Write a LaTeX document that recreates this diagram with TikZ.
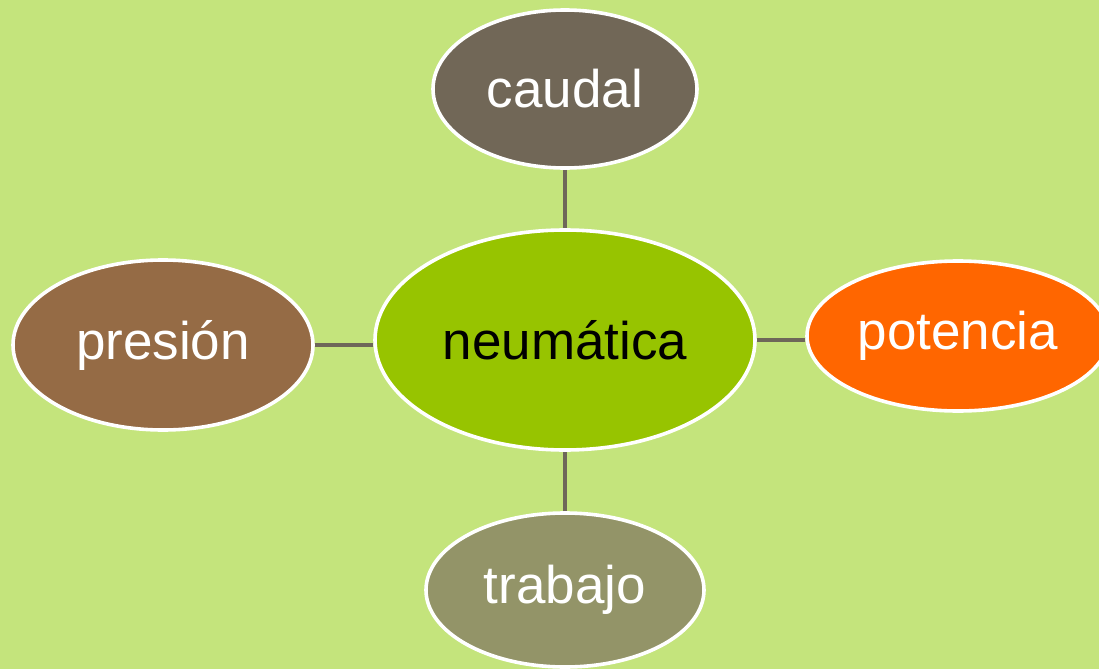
\documentclass[tikz,border=0pt]{standalone}
\usepackage{fontspec}
\setmainfont{Liberation Sans}
\usetikzlibrary{shapes.geometric}
\definecolor{bggreen}{HTML}{C4E47C}
\definecolor{centergreen}{HTML}{97C400}
\definecolor{caudalgray}{HTML}{716757}
\definecolor{presionbrown}{HTML}{956B45}
\definecolor{potenciaorange}{HTML}{FF6600}
\definecolor{trabajoolive}{HTML}{939468}
\definecolor{linkgray}{HTML}{6E6759}
\begin{document}
\begin{tikzpicture}[x=0.5pt,y=-0.5pt,
    bubble/.style={ellipse, draw=white, line width=1.8pt, inner sep=0pt,
        text=white, font=\fontsize{26.5}{30}\selectfont},
    link/.style={draw=linkgray, line width=2.2pt}]

    \fill[bggreen] (0,0) rectangle (1099,669);
    \useasboundingbox (0,0) rectangle (1099,669);
    \clip (0,0) rectangle (1099,669);

    \node[bubble, fill=centergreen, text=black, minimum width=190pt, minimum height=110pt] (neum) at (565,340) {neumática};
    \node[bubble, fill=caudalgray, minimum width=132pt, minimum height=79pt] (caudal) at (565,89) {caudal};
    \node[bubble, fill=presionbrown, minimum width=150pt, minimum height=85pt] (presion) at (163,345) {presión};
    \node[bubble, fill=potenciaorange, minimum width=151pt, minimum height=75pt] (potencia) at (958,336) {potencia};
    \node[bubble, fill=trabajoolive, minimum width=139pt, minimum height=77pt] (trabajo) at (565,590) {trabajo};

    \draw[link] (caudal) -- (neum);
    \draw[link] (trabajo) -- (neum);
    \draw[link] (presion.east) -- (presion.east -| neum.west);
    \draw[link] (neum.east) -- (neum.east -| potencia.west);
\end{tikzpicture}
\end{document}
